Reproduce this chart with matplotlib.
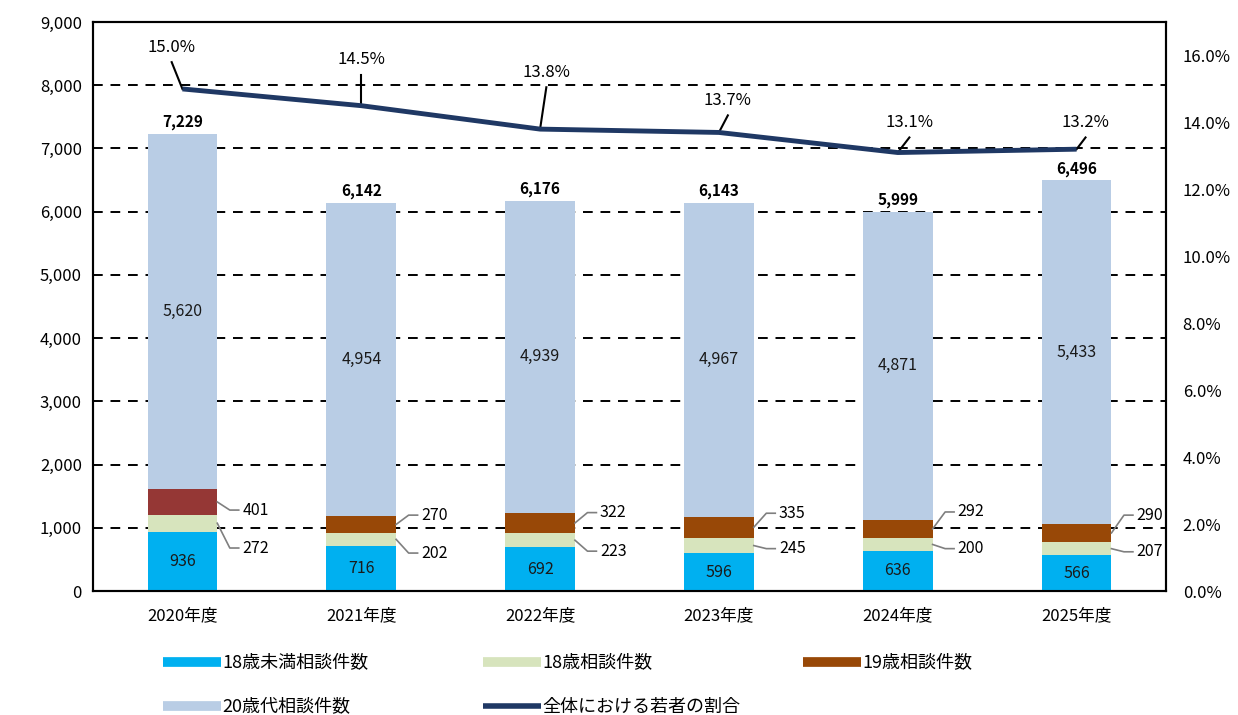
import matplotlib
matplotlib.use("Agg")
import matplotlib.pyplot as plt
from matplotlib.lines import Line2D
import numpy as np

plt.rcParams['font.family'] = ['Noto Sans CJK JP', 'DejaVu Sans']

years = ["2020年度", "2021年度", "2022年度", "2023年度", "2024年度", "2025年度"]
under18 = [936, 716, 692, 596, 636, 566]
age18 = [272, 202, 223, 245, 200, 207]
age19 = [401, 270, 322, 335, 292, 290]
age20s = [5620, 4954, 4939, 4967, 4871, 5433]
totals = [7229, 6142, 6176, 6143, 5999, 6496]
ratio = [15.0, 14.5, 13.8, 13.7, 13.1, 13.2]

# layout (label placement) helpers
ratio_label_dy = [1.25, 1.37, 1.7, 0.96, 0.9, 0.8]
ratio_label_dx = [-0.06, 0.0, 0.035, 0.05, 0.065, 0.05]
lbl19_y = [1280, 1200, 1240, 1230, 1250, 1200]
lbl18_y = [680, 600, 630, 670, 670, 620]

c_u18 = "#00B0F0"
c_18 = "#D7E4BD"
c_19 = "#984807"
c_19_first = "#953735"
c_20 = "#B9CDE5"
c_line = "#1F3864"

fig = plt.figure(figsize=(12.38, 7.15), dpi=100)
ax = fig.add_axes([93/1238, 1-591/715, (1166-93)/1238, (591-22)/715])
ax2 = ax.twinx()

x = np.arange(len(years))
w = 0.39
u = np.array(under18); a18 = np.array(age18); a19 = np.array(age19); a20 = np.array(age20s)
c19 = [c_19_first] + [c_19]*(len(years)-1)
ax.bar(x, u, w, color=c_u18, zorder=3)
ax.bar(x, a18, w, bottom=u, color=c_18, zorder=3)
ax.bar(x, a19, w, bottom=u+a18, color=c19, zorder=3)
ax.bar(x, a20, w, bottom=u+a18+a19, color=c_20, zorder=3)

ax.set_xlim(-0.5, len(years)-0.5)
ax.set_ylim(0, 9000)
ax.set_yticks(np.arange(0, 9001, 1000))
ax.set_yticklabels([f"{v:,}" for v in range(0, 9001, 1000)], fontsize=12)
ax.set_xticks(x)
ax.set_xticklabels(years, fontsize=12)
ax.tick_params(axis='y', length=0, pad=8)
ax.tick_params(axis='x', length=0, pad=12)
for yv in range(1000, 9000, 1000):
    ax.axhline(yv, color='black', ls=(0, (5, 4)), lw=1.4, zorder=1)
for s in ax.spines.values():
    s.set_linewidth(1.5)

ax2.set_ylim(0, 17)
ax2.set_yticks(np.arange(0, 17, 2))
ax2.set_yticklabels([f"{v:.1f}%" for v in range(0, 17, 2)], fontsize=12)
ax2.tick_params(axis='y', length=0, pad=12)
for s in ax2.spines.values():
    s.set_linewidth(1.5)

ax2.plot(x, ratio, color=c_line, lw=3.5, zorder=5, solid_capstyle='butt')

for i in range(len(years)):
    # segment labels
    ax.text(x[i], u[i]/2, f"{under18[i]:,}", ha='center', va='center', fontsize=11.5, color='#1a1a1a', zorder=4)
    ax.text(x[i], u[i]+a18[i]+a19[i]+a20[i]/2, f"{age20s[i]:,}", ha='center', va='center', fontsize=11.5, color='#1a1a1a', zorder=4)
    ax.text(x[i], totals[i]+60, f"{totals[i]:,}", ha='center', va='bottom', fontsize=11, fontweight='bold', zorder=4)
    # side labels with leader lines
    xe = x[i] + w/2
    y19 = u[i]+a18[i]+a19[i]/2
    y18 = u[i]+a18[i]/2
    ax.plot([xe, xe+0.07, xe+0.12], [y19, lbl19_y[i], lbl19_y[i]], color='#7f7f7f', lw=1.2, zorder=4, clip_on=False)
    ax.text(xe+0.14, lbl19_y[i], f"{age19[i]:,}", ha='left', va='center', fontsize=11.5, zorder=4)
    ax.plot([xe, xe+0.07, xe+0.12], [y18, lbl18_y[i], lbl18_y[i]], color='#7f7f7f', lw=1.2, zorder=4, clip_on=False)
    ax.text(xe+0.14, lbl18_y[i], f"{age18[i]:,}", ha='left', va='center', fontsize=11.5, zorder=4)
    # ratio labels
    lx = x[i] + ratio_label_dx[i]
    ly = ratio[i] + ratio_label_dy[i]
    ax2.plot([x[i], lx], [ratio[i], ly - 0.45], color='black', lw=1.5, zorder=4)
    ax2.text(lx, ly, f"{ratio[i]:.1f}%", ha='center', va='center', fontsize=12, zorder=6)

# legend (three columns)
def H(c, lw=7):
    return Line2D([0], [0], color=c, lw=lw, solid_capstyle='butt')

cols = [
    ([H(c_u18), H(c_20)], ["18歳未満相談件数", "20歳代相談件数"], 163),
    ([H(c_18), H(c_line, 4)], ["18歳相談件数", "全体における若者の割合"], 483),
    ([H(c_19)], ["19歳相談件数"], 803),
]
for hs, ls, px in cols:
    fig.legend(hs, ls, loc='upper left', bbox_to_anchor=(px/1238, 1-654/715),
               frameon=False, fontsize=13, handlelength=3.2, handletextpad=0.1,
               labelspacing=1.45, borderaxespad=0, borderpad=0)

fig.savefig("out.png", dpi=100)
